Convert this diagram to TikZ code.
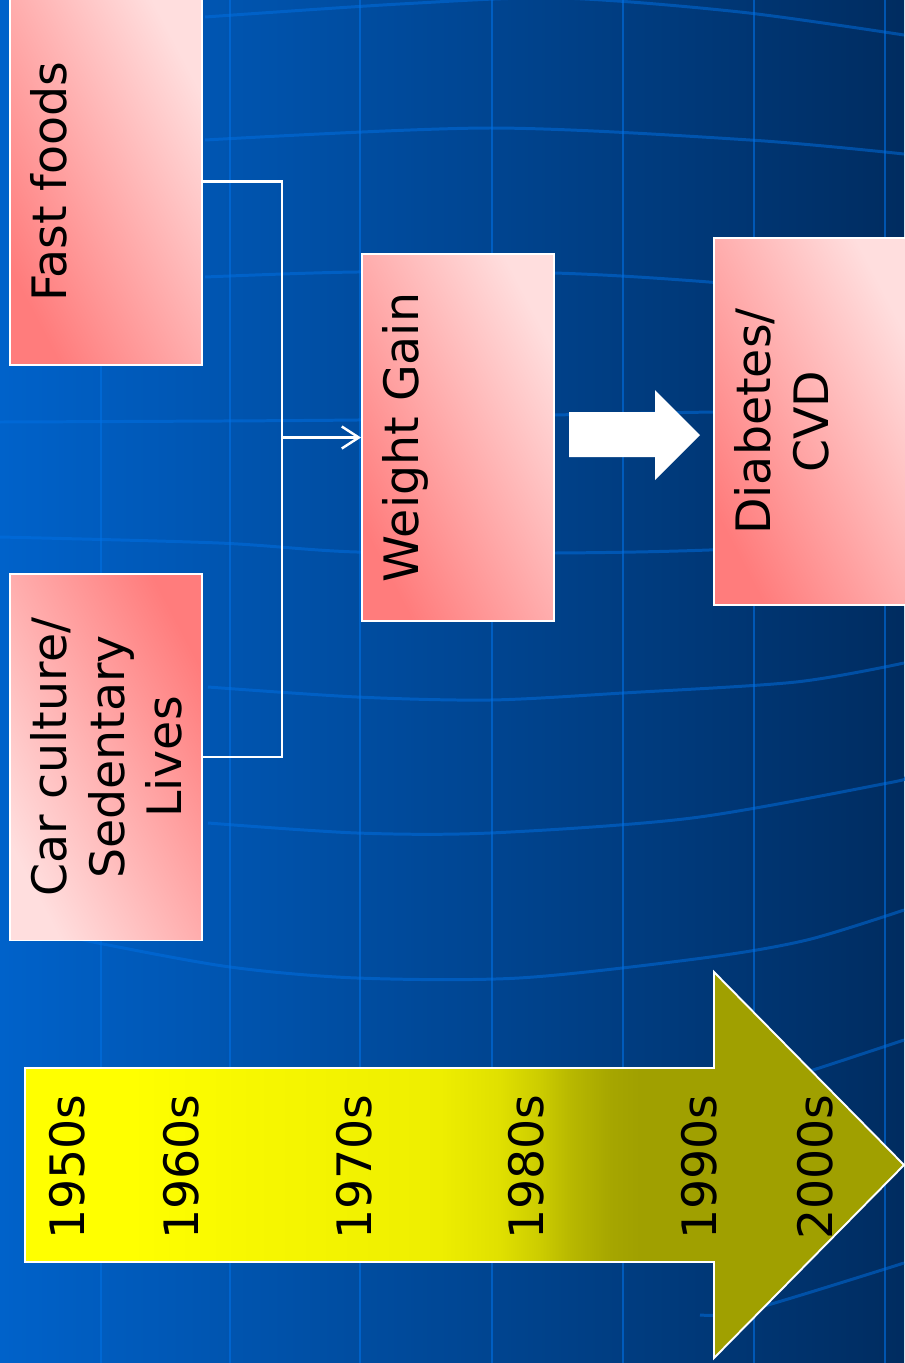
\documentclass[tikz,border=0pt]{standalone}
\usepackage{fontspec}
\setmainfont{DejaVu Sans}
\usetikzlibrary{arrows.meta}
\usetikzlibrary{calc}

\definecolor{bgleft}{RGB}{0,98,202}
\definecolor{bgright}{RGB}{0,44,96}
\definecolor{gridblue}{RGB}{0,112,228}
\definecolor{pinklight}{RGB}{255,222,222}
\definecolor{pinkdark}{RGB}{255,124,124}
\definecolor{yellowA}{RGB}{255,255,0}
\definecolor{yellowB}{RGB}{247,247,0}
\definecolor{yellowC}{RGB}{238,238,0}
\definecolor{yellowD}{RGB}{224,224,0}
\definecolor{oliveA}{RGB}{204,204,0}
\definecolor{oliveB}{RGB}{184,184,0}
\definecolor{oliveC}{RGB}{166,166,0}
\definecolor{oliveD}{RGB}{160,160,0}

% yellow to olive along the time arrow
\pgfdeclarehorizontalshading{decades}{100bp}{color(0bp)=(yellowA); color(31bp)=(yellowA);
  color(38bp)=(yellowB); color(48.6bp)=(yellowC); color(52bp)=(yellowD); color(54.3bp)=(oliveA);
  color(56bp)=(oliveB); color(58.3bp)=(oliveC); color(60bp)=(oliveD); color(100bp)=(oliveD)}

\newcommand\slidefont{\fontsize{27}{32.8}\selectfont}

\begin{document}
\begin{tikzpicture}[x=0.02cm, y=-0.02cm,
  cause/.style={draw=white, line width=1.1pt, minimum width=3.84cm, minimum height=7.34cm,
    inner sep=0pt, top color=pinklight, bottom color=pinkdark, shading angle=-62.4},
  boxtext/.style={rotate=90, anchor=north, inner sep=0pt, align=center, font=\slidefont},
  yeartext/.style={rotate=90, inner sep=0pt, font=\slidefont},
  wire/.style={white, line width=1.4pt},
  gridline/.style={gridblue, opacity=0.6, line width=1.6pt},
  gridcurve/.style={gridblue, opacity=0.5, line width=1.7pt}]

\useasboundingbox (0,0) rectangle (904,1363);

%background
\fill[left color=bgleft, right color=bgright] (0,0) rectangle (904,1363);
\foreach \gx in {101,230,360,492,623,754,885}
  \draw[gridline] (\gx,0) -- (\gx,1363);
\draw[gridcurve] plot[smooth] coordinates {(205,17) (400,4) (560,-2) (740,12) (904,35)};
\draw[gridcurve] plot[smooth] coordinates {(205,140) (490,128) (750,140) (904,154)};
\draw[gridcurve] plot[smooth] coordinates {(205,277) (357,272) (554,273) (709,282) (904,300)};
\draw[gridcurve] plot[smooth] coordinates {(0,422) (357,420) (554,415) (715,412) (904,410)};
\draw[gridcurve] plot[smooth] coordinates {(0,537) (219,543) (357,552) (554,553) (709,550) (904,540)};
\draw[gridcurve] plot[smooth] coordinates {(208,687) (357,697) (490,700) (623,693) (796,682) (904,663)};
\draw[gridcurve] plot[smooth] coordinates {(208,823) (357,833) (490,833) (692,818) (888,783) (904,778)};
\draw[gridcurve] plot[smooth] coordinates {(40,930) (98,943) (230,967) (357,978) (519,978) (703,958) (807,940) (904,910)};
\draw[gridcurve] plot[smooth] coordinates {(700,1105) (813,1070) (904,1040)};
\draw[gridcurve] plot[smooth] coordinates {(700,1315) (750,1310) (904,1263)};

%draw boxes
\node[cause] (ff) at (106,181.5) {};
\node[cause, top color=pinkdark, bottom color=pinklight, shading angle=-62.4] (car) at (106,757) {};
\node[cause] (wg) at (458,437.5) {};
\node[cause] (dia) at (810,421.5) {};

\node[boxtext] (fftext) at ([xshift=0.42cm]ff.west) {Fast foods};
\node[boxtext] (cartext) at ([xshift=0.42cm]car.west) {Car culture/\\Sedentary\\Lives};
\node[boxtext] (wgtext) at ([xshift=0.42cm]wg.west) {Weight Gain};
\node[boxtext] (diatext) at ([xshift=0.42cm]dia.west) {Diabetes/\\CVD};

%connectors
\coordinate (join) at (282,437.5);
\draw[wire] (ff.east) -| (join) |- (car.east);
\draw[wire, -{Straight Barb[length=0.34cm, width=0.44cm, line width=1.4pt]}] (join) -- (wg.west);

%block arrow
\fill[white] (569,412) -- (655,412) -- (655,390) -- (700,435) -- (655,480) -- (655,457) -- (569,457) -- cycle;

%time arrow
\draw[white, line width=1.1pt, shade, shading=decades]
  (25,1068) -- (714,1068) -- (714,972) -- (904,1165) -- (714,1358) -- (714,1262) -- (25,1262) -- cycle;
\foreach \yr/\xx in {1950s/67, 1960s/181, 1970s/354, 1980s/526, 1990s/699, 2000s/815}
  \node[yeartext] (y\yr) at (\xx,1167) {\yr};

\end{tikzpicture}
\end{document}
